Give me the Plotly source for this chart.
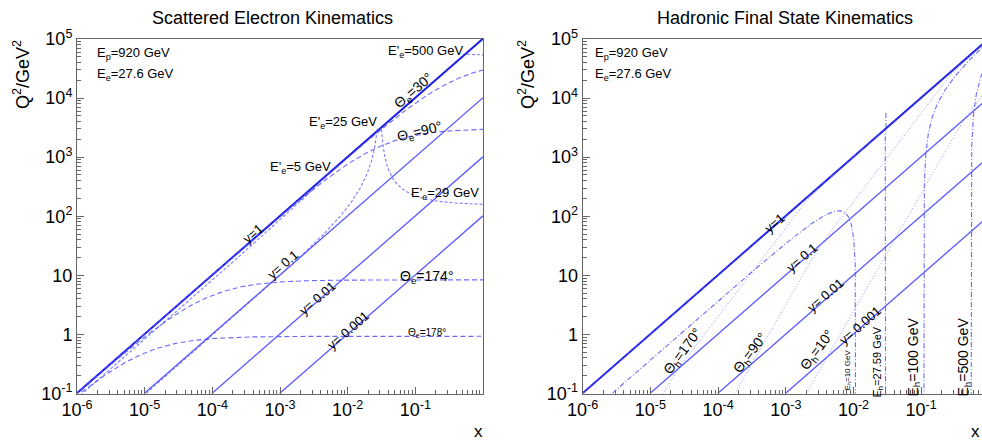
import numpy as np
import plotly.graph_objects as go

# ---------------- data / parameters ----------------
E_p = 920.0          # proton beam energy (GeV)
E_e = 27.6           # electron beam energy (GeV)
y_values = [1, 0.1, 0.01, 0.001]
y_labels = ["y=1", "y= 0.1", "y= 0.01", "y= 0.001"]
E_e_prime = [5, 25, 29, 500]          # scattered electron energies (GeV)
theta_e = [30, 90, 174, 178]          # electron angles (deg)
theta_h = [170, 90, 10]               # hadron angles (deg)
E_h = [10, 27.59, 100, 500]           # hadronic final state energies (GeV)
E_h_ext_ymax = {27.59: 1.83}          # drawn extension of the 27.59 GeV line

x_tickvals = [1e-6, 1e-5, 1e-4, 1e-3, 1e-2, 1e-1]
x_ticktext = ["10<sup>-6</sup>", "10<sup>-5</sup>", "10<sup>-4</sup>",
              "10<sup>-3</sup>", "10<sup>-2</sup>", "10<sup>-1</sup>"]
q2_tickvals = [0.1, 1, 10, 100, 1e3, 1e4, 1e5]
q2_ticktext = ["10<sup>-1</sup>", "1", "10", "10<sup>2</sup>",
               "10<sup>3</sup>", "10<sup>4</sup>", "10<sup>5</sup>"]

s = 4 * E_e * E_p

FONT = "Liberation Sans, Arial, Helvetica, sans-serif"
C_Y1 = "rgba(20,20,225,0.95)"
C_Y = "rgba(60,60,255,0.85)"
C_TH = "rgba(70,70,255,0.8)"
C_E = "rgba(90,90,255,0.8)"
C_FINE = "rgba(110,110,255,0.75)"

fig = go.Figure()


def add(x, q2, color, width, dash, ax):
    fig.add_trace(go.Scatter(x=x, y=q2, mode="lines",
                             line=dict(color=color, width=width, dash=dash),
                             xaxis="x" if ax == 1 else "x2",
                             yaxis="y" if ax == 1 else "y2",
                             hoverinfo="skip", showlegend=False))


# ---------------- constant y lines (both panels) ----------------
for ax in (1, 2):
    for yv in y_values:
        xs = np.array([0.1 / (s * yv), 1.0])
        add(xs, s * xs * yv, C_Y1 if yv == 1 else C_Y,
            2.0 if yv == 1 else 1.3, "solid", ax)

# ---------------- scattered electron: constant E'e ----------------
for Ep_ in E_e_prime:
    cmin = max(0.0, 1 - E_e / Ep_)
    if cmin == 0:
        c = np.logspace(-8, 0, 600)
    else:
        c = cmin + np.logspace(-10, np.log10(1 - cmin), 600)
    q2 = 4 * E_e * Ep_ * c
    yy = 1 - (Ep_ / E_e) * (1 - c)
    ok = yy > 0
    add(q2[ok] / (s * yy[ok]), q2[ok], C_E, 1.1, "3px,2px", 1)

# ---------------- scattered electron: constant theta_e ----------------
xg = np.logspace(-6.3, 0, 500)
for th in theta_e:
    t = np.radians(th) / 2
    K = 4 * E_e ** 2 * np.cos(t) ** 2 / np.sin(t) ** 2
    add(xg, K / (1 + K / (s * xg)), C_TH, 1.1, "5px,3px", 1)

# ---------------- hadrons: constant theta_h ----------------
for th in theta_h:
    cot2 = 1 / np.tan(np.radians(th) / 2) ** 2
    yy = np.concatenate([np.logspace(-7, -1, 300), 1 - np.logspace(-1, -7, 300)])
    xh = (E_e / E_p) * yy * cot2 / (1 - yy)
    q2 = 4 * E_e ** 2 * yy ** 2 * cot2 / (1 - yy)
    add(xh, q2, C_FINE, 1.0, "1px,2px", 2)

# ---------------- hadrons: constant E_h ----------------
for Eh in E_h:
    yend = min(Eh / E_e, 1.0)
    yy = np.concatenate([np.logspace(-8, np.log10(0.5 * yend), 300),
                         yend - np.logspace(np.log10(0.5 * yend), -9, 300)])
    xh = (Eh - yy * E_e) / (E_p * (1 - yy))
    ok = xh > 0
    xh, yy = xh[ok], yy[ok]
    q2 = s * xh * yy
    if Eh in E_h_ext_ymax:
        y2 = np.linspace(1.05, E_h_ext_ymax[Eh], 50)
        x2 = (Eh - y2 * E_e) / (E_p * (1 - y2))
        xh = np.concatenate([x2[::-1], [np.nan], xh])
        q2 = np.concatenate([(s * x2 * y2)[::-1], [np.nan], q2])
    add(xh, q2, C_TH, 1.1, "5px,2px,1px,2px", 2)

# ---------------- axes ----------------
W, H = 982, 440
L1, R1 = 77, 483
L2 = 582.7
TOP, BOT = 39, 393.5
ydom = [(H - BOT) / H, (H - TOP) / H]

minor_x = [k * 10.0 ** d for d in range(-6, 0) for k in range(2, 10)]
minor_y = [k * 10.0 ** d for d in range(-1, 5) for k in range(2, 10)]

axcommon = dict(type="log", showgrid=False, zeroline=False, showline=True,
                linecolor="#666", linewidth=1, ticks="inside", ticklen=7,
                tickcolor="#666", tickwidth=1, automargin=False,
                tickfont=dict(family=FONT, size=18, color="black"))

xa = dict(axcommon, tickvals=x_tickvals, ticktext=x_ticktext,
          minor=dict(ticks="inside", ticklen=4, tickcolor="#666", tickvals=minor_x))
ya = dict(axcommon, tickvals=q2_tickvals, ticktext=q2_ticktext,
          minor=dict(ticks="inside", ticklen=4, tickcolor="#666", tickvals=minor_y),
          range=[-1, 5])

fig.update_layout(
    width=W, height=H, margin=dict(l=0, r=0, t=0, b=0, autoexpand=False),
    paper_bgcolor="white", plot_bgcolor="white",
    xaxis=dict(xa, domain=[L1 / W, R1 / W], range=[-6, 0], anchor="y", mirror=True),
    yaxis=dict(ya, domain=ydom, anchor="x", mirror=True),
    xaxis2=dict(xa, domain=[L2 / W, 1.0], range=[-6, -6 + (W - L2) / 67.7],
                anchor="y2", mirror=True),
    yaxis2=dict(ya, domain=ydom, anchor="x2", mirror=False),
)

ann = []


def pap(text, px, py, size, angle=0, xanchor="center"):
    ann.append(dict(text=text, x=px / W, y=1 - py / H, xref="paper", yref="paper",
                    showarrow=False, textangle=angle, xanchor=xanchor, yanchor="middle",
                    font=dict(family=FONT, size=size, color="black")))


def dat(text, xl, yl, size, angle=0, ax=1):
    ann.append(dict(text=text, x=xl, y=yl, xref="x" if ax == 1 else "x2",
                    yref="y" if ax == 1 else "y2", showarrow=False, textangle=angle,
                    xanchor="center", yanchor="middle",
                    font=dict(family=FONT, size=size, color="black")))


# titles and axis titles
pap("Scattered Electron Kinematics", 272, 18, 18)
pap("Hadronic Final State Kinematics", 785, 18, 18)
for px in (22, 527):
    pap("Q<sup>2</sup>/GeV<sup>2</sup>", px, 75, 18, -90)
pap("x", 478, 431, 17)
pap("x", 975, 431, 17)
for px in (95, 593):
    pap("E<sub>p</sub>=920 GeV", px, 54, 13, xanchor="left")
    pap("E<sub>e</sub>=27.6 GeV", px, 75, 13, xanchor="left")

# left panel labels
dat("E'<sub>e</sub>=500 GeV", -0.857, 4.78, 13)
dat("Θ<sub>e</sub>=30°", -1.02, 4.12, 14, -41)
dat("E'<sub>e</sub>=25 GeV", -2.07, 3.58, 13)
dat("Θ<sub>e</sub>=90°", -0.93, 3.42, 14, -14)
dat("E'<sub>e</sub>=5 GeV", -2.69, 2.83, 13)
dat("E'<sub>e</sub>=29 GeV", -0.56, 2.39, 13)
dat("Θ<sub>e</sub>=174°", -0.83, 0.97, 14)
dat("Θ<sub>e</sub>=178°", -0.83, 0.02, 10)
for lab, xl, yl in zip(y_labels, [-3.40, -2.956, -2.453, -1.995], [1.712, 1.186, 0.61, 0.068]):
    dat(lab, xl, yl, 13, -41, 1)

# right panel labels
for lab, xl, yl in zip(y_labels, [-3.174, -2.76, -2.421, -1.904], [1.881, 1.305, 0.661, 0.153]):
    dat(lab, xl, yl, 13, -41, 2)
dat("Θ<sub>h</sub>=170°", -4.518, -0.305, 14, -53, 2)
dat("Θ<sub>h</sub>=90°", -3.514, -0.322, 14, -53, 2)
dat("Θ<sub>h</sub>=10°", -2.525, -0.271, 14, -53, 2)
dat("E<sub>h</sub>=10 GeV", -2.081, -0.61, 8, -90, 2)
dat("E<sub>h</sub>=27.59 GeV", -1.638, -0.475, 11, -90, 2)
dat("E<sub>h</sub>=100 GeV", -1.106, -0.39, 14, -90, 2)
dat("E<sub>h</sub>=500 GeV", -0.367, -0.39, 14, -90, 2)

fig.update_layout(annotations=ann)
fig.write_html("out.html")
